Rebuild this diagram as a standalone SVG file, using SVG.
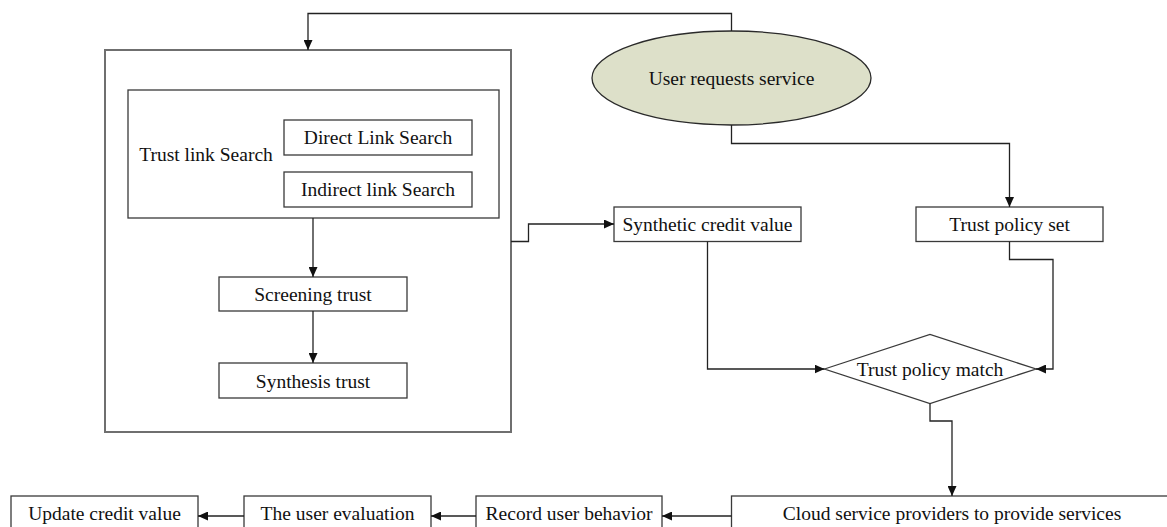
<svg xmlns="http://www.w3.org/2000/svg" width="1167" height="527" viewBox="0 0 1167 527">
  <style>
    .box { fill: #ffffff; stroke: #3a3a3a; stroke-width: 1.3; }
    .frame { fill: none; stroke: #6f6f6f; stroke-width: 2; }
    .ell { fill: #dde0c9; stroke: #2a2a2a; stroke-width: 1.3; }
    .lbl { font-family: "Liberation Serif", "Times New Roman", serif; font-size: 19.5px; fill: #111111; text-anchor: middle; }
    .conn { fill: none; stroke: #222222; stroke-width: 1.3; }
    .arr { marker-end: url(#head); }
  </style>
  <defs>
    <marker id="head" markerUnits="userSpaceOnUse" markerWidth="10" markerHeight="9" refX="10" refY="4.5" orient="auto">
      <path d="M0,0 L10,4.5 L0,9 z" fill="#111111"/>
    </marker>
  </defs>
  <rect width="1167" height="527" fill="#ffffff"/>

  <!-- evaluation frame with the trust link search block -->
  <g id="trust-frame">
    <rect class="frame" x="105" y="50" width="406" height="382"/>
  </g>
  <g id="trust-link-search">
    <rect class="box" x="128" y="90" width="371" height="128"/>
    <text class="lbl" x="206" y="160.5">Trust link Search</text>
  </g>
  <g id="direct-link-search">
    <rect class="box" x="284" y="120" width="188" height="35"/>
    <text class="lbl" x="378" y="144">Direct Link Search</text>
  </g>
  <g id="indirect-link-search">
    <rect class="box" x="284" y="172" width="188" height="35"/>
    <text class="lbl" x="378" y="196">Indirect link Search</text>
  </g>
  <g id="screening-trust">
    <rect class="box" x="219" y="277" width="188" height="34"/>
    <text class="lbl" x="313" y="300.5">Screening trust</text>
  </g>
  <g id="synthesis-trust">
    <rect class="box" x="219" y="363" width="188" height="35"/>
    <text class="lbl" x="313" y="387.5">Synthesis trust</text>
  </g>

  <!-- request and policy side -->
  <g id="user-request">
    <ellipse class="ell" cx="731.5" cy="78" rx="139.5" ry="47"/>
    <text class="lbl" x="731.5" y="84.5">User requests service</text>
  </g>
  <g id="synthetic-credit">
    <rect class="box" x="614" y="207" width="187" height="34.5"/>
    <text class="lbl" x="707.5" y="230.5">Synthetic credit value</text>
  </g>
  <g id="trust-policy-set">
    <rect class="box" x="916" y="207" width="187" height="34.5"/>
    <text class="lbl" x="1009.5" y="230.5">Trust policy set</text>
  </g>
  <g id="trust-policy-match">
    <polygon class="box" points="824.5,369 930,334.5 1036,369 930,403.5"/>
    <text class="lbl" x="930" y="375.5">Trust policy match</text>
  </g>

  <!-- service and feedback row -->
  <g id="cloud-service">
    <rect class="box" x="731.5" y="496" width="445" height="50"/>
    <text class="lbl" x="952" y="520">Cloud service providers to provide services</text>
  </g>
  <g id="record-behavior">
    <rect class="box" x="476" y="496" width="186" height="50"/>
    <text class="lbl" x="569" y="520">Record user behavior</text>
  </g>
  <g id="user-evaluation">
    <rect class="box" x="244" y="496" width="187" height="50"/>
    <text class="lbl" x="337.5" y="520">The user evaluation</text>
  </g>
  <g id="update-credit">
    <rect class="box" x="11" y="496" width="187" height="50"/>
    <text class="lbl" x="104.5" y="520">Update credit value</text>
  </g>

  <g id="connectors">
    <polyline class="conn arr" points="731.5,31 731.5,13.5 308,13.5 308,50"/>
    <polyline class="conn arr" points="731.5,125 731.5,143.5 1009.5,143.5 1009.5,207"/>
    <polyline class="conn arr" points="313,218 313,277"/>
    <polyline class="conn arr" points="313,311 313,363"/>
    <polyline class="conn arr" points="511,241.5 528.5,241.5 528.5,224 614,224"/>
    <polyline class="conn arr" points="707.5,241.5 707.5,369 824.5,369"/>
    <polyline class="conn arr" points="1009.5,241.5 1009.5,259.5 1053,259.5 1053,369 1036,369"/>
    <polyline class="conn arr" points="930,403.5 930,421 952,421 952,496"/>
    <polyline class="conn arr" points="731.5,516 662,516"/>
    <polyline class="conn arr" points="476,516 431,516"/>
    <polyline class="conn arr" points="244,516 198,516"/>
  </g>
</svg>
